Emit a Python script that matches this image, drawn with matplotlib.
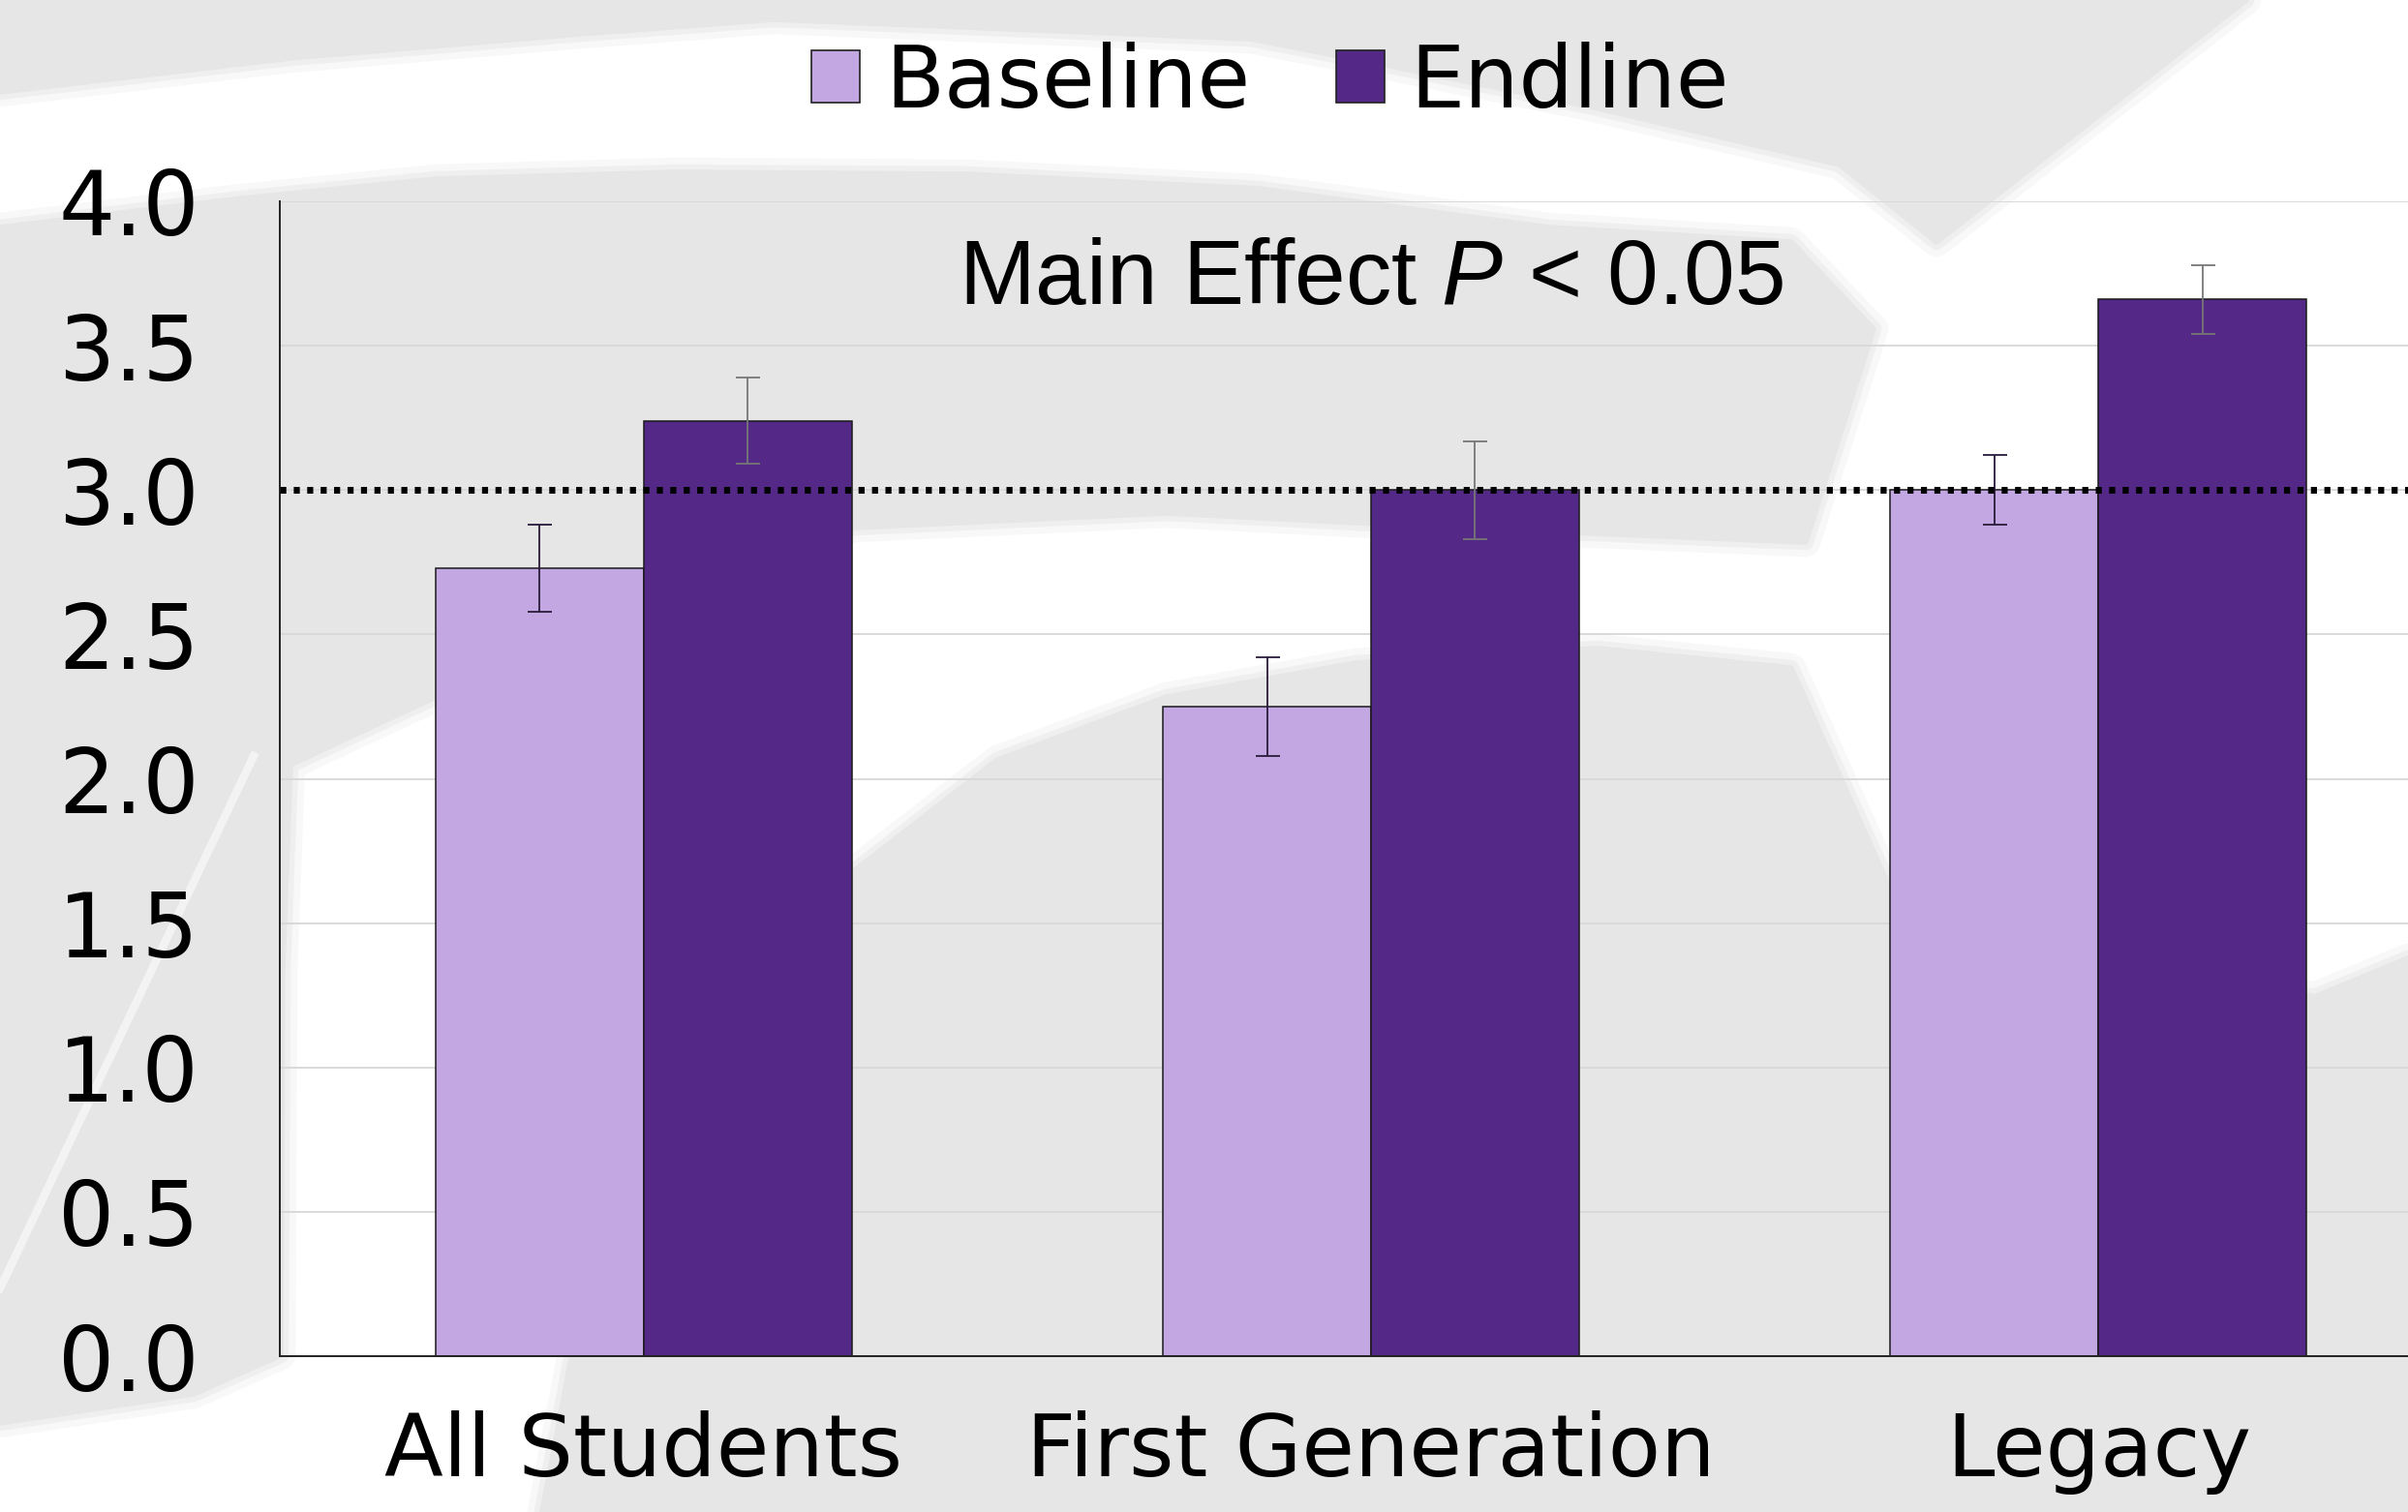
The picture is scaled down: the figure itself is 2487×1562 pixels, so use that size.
import matplotlib
matplotlib.use("Agg")
import matplotlib.pyplot as plt
from matplotlib.patches import Polygon, Patch
import numpy as np

# data
groups = ["All Students", "First Generation", "Legacy"]
baseline = [2.73, 2.25, 3.00]
endline = [3.24, 3.00, 3.66]
baseline_err = [0.15, 0.17, 0.12]
endline_err = [0.15, 0.17, 0.12]
ref_level = 3.0
yticks = [0.0, 0.5, 1.0, 1.5, 2.0, 2.5, 3.0, 3.5, 4.0]
note = "Main Effect $\\mathit{P}$ < 0.05"

light = "#c2a7e3"
dark = "#532887"
bg_gray = "#e6e6e6"

plt.rcParams["font.family"] = "DejaVu Sans"
plt.rcParams["mathtext.fontset"] = "custom"
plt.rcParams["mathtext.rm"] = "Liberation Sans"
plt.rcParams["mathtext.it"] = "Liberation Sans:italic"

W, H = 2487, 1562
fig = plt.figure(figsize=(W / 100, H / 100), dpi=100, facecolor="white")

# slide background swoosh (pixel coords of the picture)
bg = fig.add_axes([0, 0, 1, 1], zorder=-5)
bg.set_xlim(0, W)
bg.set_ylim(H, 0)
bg.axis("off")
shapes = [
    [(0, 0), (2320, 0), (2000, 250), (1900, 170), (1642, 110), (1431, 67),
     (1291, 40), (800, 20), (600, 35), (300, 60), (0, 95)],
    [(0, 235), (250, 205), (450, 185), (700, 178), (1000, 180), (1300, 195),
     (1600, 235), (1850, 250), (1935, 340), (1900, 450), (1865, 560),
     (1500, 545), (1205, 530), (882, 545), (700, 610), (450, 720), (300, 790),
     (292, 1000), (290, 1400), (200, 1440), (0, 1470)],
    [(560, 1562), (600, 1350), (700, 1100), (882, 900), (1030, 785),
     (1205, 720), (1400, 685), (1650, 670), (1850, 690), (1953, 920),
     (2390, 1030), (2487, 990), (2487, 1562)],
]
for pts in shapes:
    # soft rim first, then the solid shape
    for lw, a in [(22, 0.25), (12, 0.45)]:
        bg.add_patch(Polygon(pts, closed=True, facecolor="none", edgecolor=bg_gray,
                             linewidth=lw, alpha=a, joinstyle="round"))
    bg.add_patch(Polygon(pts, closed=True, facecolor=bg_gray, edgecolor=bg_gray,
                         linewidth=4, joinstyle="round"))
bg.plot([262, 0], [781, 1331], color="white", lw=6, alpha=0.55)

ax = fig.add_axes([289 / W, 1 - 1401 / H, 2254 / W, 1193 / H], facecolor="none")

x = np.arange(len(groups))
w = 0.286
ax.bar(x - w / 2, baseline, w, color=light, edgecolor="#1a1a1a", linewidth=1.1, zorder=2)
ax.bar(x + w / 2, endline, w, color=dark, edgecolor="#1a1a1a", linewidth=1.1, zorder=2)
ax.errorbar(x - w / 2, baseline, yerr=baseline_err, fmt="none", ecolor="#2a1b3a",
            elinewidth=1.3, capsize=9, capthick=1.3, zorder=3)
ax.errorbar(x + w / 2, endline, yerr=endline_err, fmt="none", ecolor="#777777",
            elinewidth=1.3, capsize=9, capthick=1.3, zorder=3)

ax.axhline(ref_level, color="black", lw=5, linestyle=(0, (0.9, 1.1)), zorder=4)

ax.set_xlim(-0.5, 2.5)
ax.set_ylim(0, 4.0)
ax.set_yticks(yticks)
ax.set_yticklabels(["%.1f" % v for v in yticks])
ax.set_xticks(x)
ax.set_xticklabels(groups)
ax.tick_params(axis="y", length=0, pad=60, labelsize=66)
ax.tick_params(axis="x", length=0, pad=40, labelsize=64)
ax.yaxis.grid(True, color="#d9d9d9", lw=1.4, zorder=0)
ax.set_axisbelow(True)
for s in ["top", "right"]:
    ax.spines[s].set_visible(False)
for s in ["left", "bottom"]:
    ax.spines[s].set_color("#222222")
    ax.spines[s].set_linewidth(1.4)

ax.text(1.0, 3.645, note, ha="center", va="baseline", fontsize=68,
        family="Liberation Sans", zorder=5)

handles = [Patch(facecolor=light, edgecolor="#222222", lw=1.2, label="Baseline"),
           Patch(facecolor=dark, edgecolor="#222222", lw=1.2, label="Endline")]
fig.legend(handles=handles, loc="center", bbox_to_anchor=(1312 / W, 1 - 86 / H),
           ncol=2, frameon=False, fontsize=64, handlelength=0.56, handleheight=0.56,
           handletextpad=0.3, columnspacing=1.0)

fig.savefig("out.png", dpi=100)
